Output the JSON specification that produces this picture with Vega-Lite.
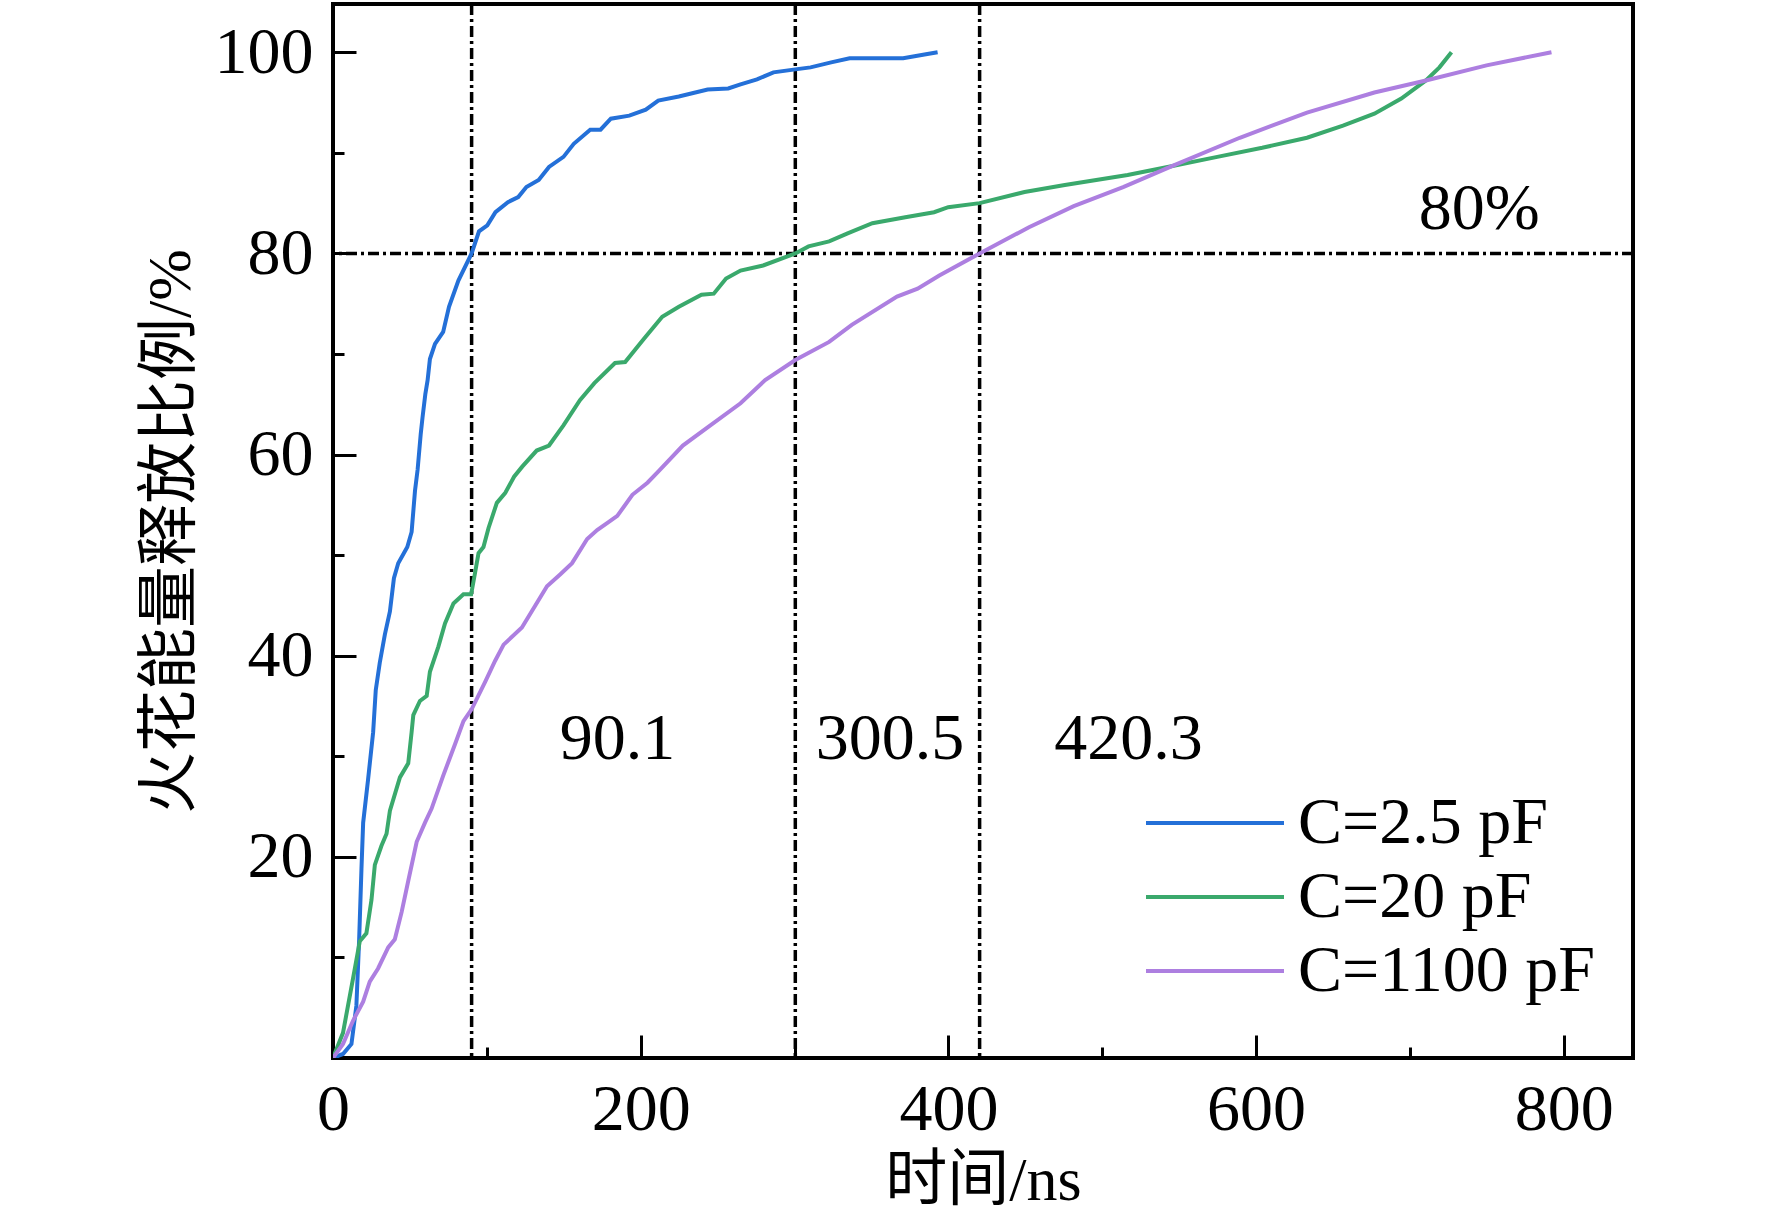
{
  "$schema": "https://vega.github.io/schema/vega-lite/v6.json",
  "autosize": "none",
  "padding": {"left": 333, "top": 4, "right": 139, "bottom": 164},
  "width": 1300,
  "height": 1054,
  "background": "white",
  "config": {
    "font": "Liberation Serif, Noto Sans CJK SC",
    "view": {"stroke": "black", "strokeWidth": 4},
    "axis": {
      "domain": false,
      "grid": false,
      "labelFlush": false,
      "tickColor": "black",
      "tickWidth": 3,
      "labelColor": "black",
      "labelFont": "Liberation Serif",
      "labelFontSize": 66,
      "titleColor": "black",
      "titleFont": "Liberation Serif, Noto Sans CJK SC",
      "titleFontSize": 62,
      "titleFontWeight": "normal"
    }
  },
  "datasets": {
    "curves": [
      {"s": "C=2.5 pF", "t": 0, "p": 0},
      {"s": "C=2.5 pF", "t": 6.5, "p": 0.4},
      {"s": "C=2.5 pF", "t": 12, "p": 1.4},
      {"s": "C=2.5 pF", "t": 15.2, "p": 5.2},
      {"s": "C=2.5 pF", "t": 17, "p": 11.8},
      {"s": "C=2.5 pF", "t": 18.5, "p": 18.8},
      {"s": "C=2.5 pF", "t": 19.6, "p": 23.4},
      {"s": "C=2.5 pF", "t": 22.8, "p": 27.7},
      {"s": "C=2.5 pF", "t": 26.1, "p": 32.4},
      {"s": "C=2.5 pF", "t": 27.8, "p": 36.6},
      {"s": "C=2.5 pF", "t": 30.4, "p": 39.3},
      {"s": "C=2.5 pF", "t": 33.7, "p": 42.1},
      {"s": "C=2.5 pF", "t": 37, "p": 44.4},
      {"s": "C=2.5 pF", "t": 39.6, "p": 47.7},
      {"s": "C=2.5 pF", "t": 42.4, "p": 49.2},
      {"s": "C=2.5 pF", "t": 48.3, "p": 50.8},
      {"s": "C=2.5 pF", "t": 51.1, "p": 52.3},
      {"s": "C=2.5 pF", "t": 53.3, "p": 56.4},
      {"s": "C=2.5 pF", "t": 55, "p": 58.5},
      {"s": "C=2.5 pF", "t": 57, "p": 62},
      {"s": "C=2.5 pF", "t": 58.2, "p": 63.7},
      {"s": "C=2.5 pF", "t": 60, "p": 66},
      {"s": "C=2.5 pF", "t": 61.5, "p": 67.4},
      {"s": "C=2.5 pF", "t": 63, "p": 69.5},
      {"s": "C=2.5 pF", "t": 66.3, "p": 71.0},
      {"s": "C=2.5 pF", "t": 71.6, "p": 72.2},
      {"s": "C=2.5 pF", "t": 75.4, "p": 74.7},
      {"s": "C=2.5 pF", "t": 81.5, "p": 77.3},
      {"s": "C=2.5 pF", "t": 90.1, "p": 80},
      {"s": "C=2.5 pF", "t": 94.9, "p": 82.2},
      {"s": "C=2.5 pF", "t": 100.3, "p": 82.8},
      {"s": "C=2.5 pF", "t": 105.6, "p": 84.1},
      {"s": "C=2.5 pF", "t": 113.7, "p": 85.1},
      {"s": "C=2.5 pF", "t": 120.4, "p": 85.6},
      {"s": "C=2.5 pF", "t": 125.7, "p": 86.6},
      {"s": "C=2.5 pF", "t": 133.7, "p": 87.3},
      {"s": "C=2.5 pF", "t": 140.4, "p": 88.6},
      {"s": "C=2.5 pF", "t": 149.8, "p": 89.6},
      {"s": "C=2.5 pF", "t": 156.5, "p": 90.9},
      {"s": "C=2.5 pF", "t": 167.2, "p": 92.3},
      {"s": "C=2.5 pF", "t": 173.9, "p": 92.3},
      {"s": "C=2.5 pF", "t": 180.6, "p": 93.4},
      {"s": "C=2.5 pF", "t": 192.6, "p": 93.7},
      {"s": "C=2.5 pF", "t": 203.3, "p": 94.3},
      {"s": "C=2.5 pF", "t": 211.4, "p": 95.2},
      {"s": "C=2.5 pF", "t": 224.8, "p": 95.6},
      {"s": "C=2.5 pF", "t": 243.5, "p": 96.3},
      {"s": "C=2.5 pF", "t": 256.9, "p": 96.4},
      {"s": "C=2.5 pF", "t": 264.9, "p": 96.8},
      {"s": "C=2.5 pF", "t": 275.6, "p": 97.3},
      {"s": "C=2.5 pF", "t": 286.3, "p": 98.0},
      {"s": "C=2.5 pF", "t": 300.5, "p": 98.3},
      {"s": "C=2.5 pF", "t": 310.4, "p": 98.5},
      {"s": "C=2.5 pF", "t": 323.8, "p": 99.0},
      {"s": "C=2.5 pF", "t": 335.8, "p": 99.4},
      {"s": "C=2.5 pF", "t": 370.6, "p": 99.4},
      {"s": "C=2.5 pF", "t": 385.4, "p": 99.8},
      {"s": "C=2.5 pF", "t": 393, "p": 100},
      {"s": "C=20 pF", "t": 0, "p": 0},
      {"s": "C=20 pF", "t": 6.5, "p": 2.5},
      {"s": "C=20 pF", "t": 13, "p": 7.9},
      {"s": "C=20 pF", "t": 17.4, "p": 11.6},
      {"s": "C=20 pF", "t": 21.7, "p": 12.4},
      {"s": "C=20 pF", "t": 25, "p": 15.7},
      {"s": "C=20 pF", "t": 27.2, "p": 19.2},
      {"s": "C=20 pF", "t": 31.5, "p": 21.1},
      {"s": "C=20 pF", "t": 34.8, "p": 22.3},
      {"s": "C=20 pF", "t": 37, "p": 24.6},
      {"s": "C=20 pF", "t": 43.5, "p": 27.9},
      {"s": "C=20 pF", "t": 48.9, "p": 29.3},
      {"s": "C=20 pF", "t": 51.1, "p": 32.4},
      {"s": "C=20 pF", "t": 52.2, "p": 34.1},
      {"s": "C=20 pF", "t": 56.5, "p": 35.5},
      {"s": "C=20 pF", "t": 60.9, "p": 36},
      {"s": "C=20 pF", "t": 63, "p": 38.4},
      {"s": "C=20 pF", "t": 68.5, "p": 40.9},
      {"s": "C=20 pF", "t": 72.8, "p": 43.2},
      {"s": "C=20 pF", "t": 78.3, "p": 45.2},
      {"s": "C=20 pF", "t": 84.8, "p": 46.1},
      {"s": "C=20 pF", "t": 89.8, "p": 46.1},
      {"s": "C=20 pF", "t": 92.4, "p": 48.3},
      {"s": "C=20 pF", "t": 94.6, "p": 50.2},
      {"s": "C=20 pF", "t": 97.8, "p": 50.8},
      {"s": "C=20 pF", "t": 101.1, "p": 52.7},
      {"s": "C=20 pF", "t": 106.5, "p": 55.2},
      {"s": "C=20 pF", "t": 112, "p": 56.2},
      {"s": "C=20 pF", "t": 117.7, "p": 57.8},
      {"s": "C=20 pF", "t": 123, "p": 58.8},
      {"s": "C=20 pF", "t": 132.4, "p": 60.4},
      {"s": "C=20 pF", "t": 140.4, "p": 60.9},
      {"s": "C=20 pF", "t": 149.8, "p": 62.9},
      {"s": "C=20 pF", "t": 160.5, "p": 65.4},
      {"s": "C=20 pF", "t": 169.9, "p": 67.1},
      {"s": "C=20 pF", "t": 183.3, "p": 69.1},
      {"s": "C=20 pF", "t": 189.9, "p": 69.2},
      {"s": "C=20 pF", "t": 202, "p": 71.5},
      {"s": "C=20 pF", "t": 214, "p": 73.7},
      {"s": "C=20 pF", "t": 224.8, "p": 74.7},
      {"s": "C=20 pF", "t": 239.5, "p": 75.9},
      {"s": "C=20 pF", "t": 247.5, "p": 76},
      {"s": "C=20 pF", "t": 255.5, "p": 77.5},
      {"s": "C=20 pF", "t": 264.9, "p": 78.3},
      {"s": "C=20 pF", "t": 279.6, "p": 78.8},
      {"s": "C=20 pF", "t": 300.5, "p": 80},
      {"s": "C=20 pF", "t": 309.1, "p": 80.7},
      {"s": "C=20 pF", "t": 322.5, "p": 81.2},
      {"s": "C=20 pF", "t": 334.5, "p": 82},
      {"s": "C=20 pF", "t": 350.6, "p": 83},
      {"s": "C=20 pF", "t": 372, "p": 83.6},
      {"s": "C=20 pF", "t": 390.7, "p": 84.1},
      {"s": "C=20 pF", "t": 399.9, "p": 84.6},
      {"s": "C=20 pF", "t": 420.3, "p": 85},
      {"s": "C=20 pF", "t": 449.5, "p": 86.1},
      {"s": "C=20 pF", "t": 475.7, "p": 86.8},
      {"s": "C=20 pF", "t": 516.5, "p": 87.8},
      {"s": "C=20 pF", "t": 545.7, "p": 88.7},
      {"s": "C=20 pF", "t": 574.8, "p": 89.6},
      {"s": "C=20 pF", "t": 604, "p": 90.5},
      {"s": "C=20 pF", "t": 633.1, "p": 91.5},
      {"s": "C=20 pF", "t": 656.5, "p": 92.7},
      {"s": "C=20 pF", "t": 676.9, "p": 93.9},
      {"s": "C=20 pF", "t": 694.4, "p": 95.4},
      {"s": "C=20 pF", "t": 710.4, "p": 97.2},
      {"s": "C=20 pF", "t": 719.2, "p": 98.5},
      {"s": "C=20 pF", "t": 727, "p": 100},
      {"s": "C=1100 pF", "t": 0, "p": 0},
      {"s": "C=1100 pF", "t": 6.5, "p": 1.4},
      {"s": "C=1100 pF", "t": 13, "p": 3.7},
      {"s": "C=1100 pF", "t": 19.6, "p": 5.6},
      {"s": "C=1100 pF", "t": 23.9, "p": 7.6},
      {"s": "C=1100 pF", "t": 29.3, "p": 8.9},
      {"s": "C=1100 pF", "t": 35.9, "p": 11},
      {"s": "C=1100 pF", "t": 40.2, "p": 11.8},
      {"s": "C=1100 pF", "t": 44.6, "p": 14.5},
      {"s": "C=1100 pF", "t": 48.9, "p": 17.6},
      {"s": "C=1100 pF", "t": 54.4, "p": 21.5},
      {"s": "C=1100 pF", "t": 59.8, "p": 23.4},
      {"s": "C=1100 pF", "t": 64.1, "p": 24.8},
      {"s": "C=1100 pF", "t": 71.7, "p": 28.1},
      {"s": "C=1100 pF", "t": 79.3, "p": 31.2},
      {"s": "C=1100 pF", "t": 84.8, "p": 33.5},
      {"s": "C=1100 pF", "t": 90.2, "p": 34.7},
      {"s": "C=1100 pF", "t": 98.9, "p": 37.4},
      {"s": "C=1100 pF", "t": 105.4, "p": 39.5},
      {"s": "C=1100 pF", "t": 110.9, "p": 41.1},
      {"s": "C=1100 pF", "t": 122.8, "p": 42.8},
      {"s": "C=1100 pF", "t": 131.5, "p": 45},
      {"s": "C=1100 pF", "t": 139.1, "p": 46.9},
      {"s": "C=1100 pF", "t": 147.8, "p": 48.1},
      {"s": "C=1100 pF", "t": 155.4, "p": 49.2},
      {"s": "C=1100 pF", "t": 165.2, "p": 51.6},
      {"s": "C=1100 pF", "t": 171.7, "p": 52.5},
      {"s": "C=1100 pF", "t": 179.3, "p": 53.3},
      {"s": "C=1100 pF", "t": 184.8, "p": 53.9},
      {"s": "C=1100 pF", "t": 194.6, "p": 56},
      {"s": "C=1100 pF", "t": 204.4, "p": 57.2},
      {"s": "C=1100 pF", "t": 212, "p": 58.4},
      {"s": "C=1100 pF", "t": 227.4, "p": 60.9},
      {"s": "C=1100 pF", "t": 243.5, "p": 62.7},
      {"s": "C=1100 pF", "t": 264.9, "p": 65.1},
      {"s": "C=1100 pF", "t": 280.9, "p": 67.4},
      {"s": "C=1100 pF", "t": 300.5, "p": 69.4},
      {"s": "C=1100 pF", "t": 322.5, "p": 71.2},
      {"s": "C=1100 pF", "t": 337.2, "p": 72.9},
      {"s": "C=1100 pF", "t": 366.6, "p": 75.7},
      {"s": "C=1100 pF", "t": 380, "p": 76.5},
      {"s": "C=1100 pF", "t": 394.1, "p": 77.8},
      {"s": "C=1100 pF", "t": 420.3, "p": 80},
      {"s": "C=1100 pF", "t": 452.4, "p": 82.6},
      {"s": "C=1100 pF", "t": 481.5, "p": 84.7},
      {"s": "C=1100 pF", "t": 513.6, "p": 86.6},
      {"s": "C=1100 pF", "t": 545.7, "p": 88.7},
      {"s": "C=1100 pF", "t": 589.4, "p": 91.5},
      {"s": "C=1100 pF", "t": 633.1, "p": 94},
      {"s": "C=1100 pF", "t": 676.9, "p": 96},
      {"s": "C=1100 pF", "t": 710.4, "p": 97.2},
      {"s": "C=1100 pF", "t": 749.8, "p": 98.7},
      {"s": "C=1100 pF", "t": 792, "p": 100}
    ],
    "vlines": [{"t": 90.1}, {"t": 300.5}, {"t": 420.3}],
    "hlines": [{"p": 80}],
    "notes": [
      {"label": "90.1", "t": 185, "p": 31.7},
      {"label": "300.5", "t": 362, "p": 31.7},
      {"label": "420.3", "t": 517, "p": 31.7},
      {"label": "80%", "t": 745, "p": 84.4}
    ]
  },
  "layer": [
    {
      "data": {"name": "vlines"},
      "mark": {"type": "rule", "color": "black", "strokeWidth": 3.5, "strokeDash": [11, 4, 3, 4]},
      "encoding": {
        "x": {
          "field": "t", "type": "quantitative",
          "scale": {"domain": [0, 845], "nice": false, "zero": false},
          "axis": {"orient": "bottom", "values": [100, 300, 500, 700], "labels": false, "title": null, "tickSize": -11}
        }
      }
    },
    {
      "data": {"name": "hlines"},
      "mark": {"type": "rule", "color": "black", "strokeWidth": 3.5, "strokeDash": [11, 4, 3, 4]},
      "encoding": {
        "y": {
          "field": "p", "type": "quantitative",
          "scale": {"domain": [0, 104.8], "nice": false, "zero": false},
          "axis": {"orient": "left", "values": [10, 30, 50, 70, 90], "labels": false, "title": null, "tickSize": -11}
        }
      }
    },
    {
      "data": {"name": "curves"},
      "mark": {"type": "line", "strokeWidth": 4, "clip": true},
      "encoding": {
        "x": {
          "field": "t", "type": "quantitative",
          "axis": {"orient": "bottom", "values": [0, 200, 400, 600, 800], "tickSize": -23, "labelPadding": 42, "title": "时间/ns", "titlePadding": 8}
        },
        "y": {
          "field": "p", "type": "quantitative",
          "axis": {"orient": "left", "values": [20, 40, 60, 80, 100], "tickSize": -23, "labelPadding": 43, "title": "火花能量释放比例/%", "titlePadding": 12}
        },
        "color": {
          "field": "s", "type": "nominal",
          "scale": {"domain": ["C=2.5 pF", "C=20 pF", "C=1100 pF"], "range": ["#2470d8", "#3aa96c", "#ad7fe0"]},
          "legend": {
            "orient": "none", "legendX": 811, "legendY": 786,
            "title": null,
            "symbolType": "stroke", "symbolSize": 19044, "symbolStrokeWidth": 4,
            "clipHeight": 66,
            "rowPadding": 8,
            "labelFont": "Liberation Serif", "labelFontSize": 66, "labelColor": "black",
            "labelOffset": 12, "labelLimit": 0
          }
        }
      }
    },
    {
      "data": {"name": "notes"},
      "mark": {"type": "text", "fontSize": 66, "font": "Liberation Serif", "color": "black", "align": "center", "baseline": "middle"},
      "encoding": {
        "x": {"field": "t", "type": "quantitative", "axis": null},
        "y": {"field": "p", "type": "quantitative", "axis": null},
        "text": {"field": "label"}
      }
    }
  ],
  "resolve": {"axis": {"x": "independent", "y": "independent"}}
}
